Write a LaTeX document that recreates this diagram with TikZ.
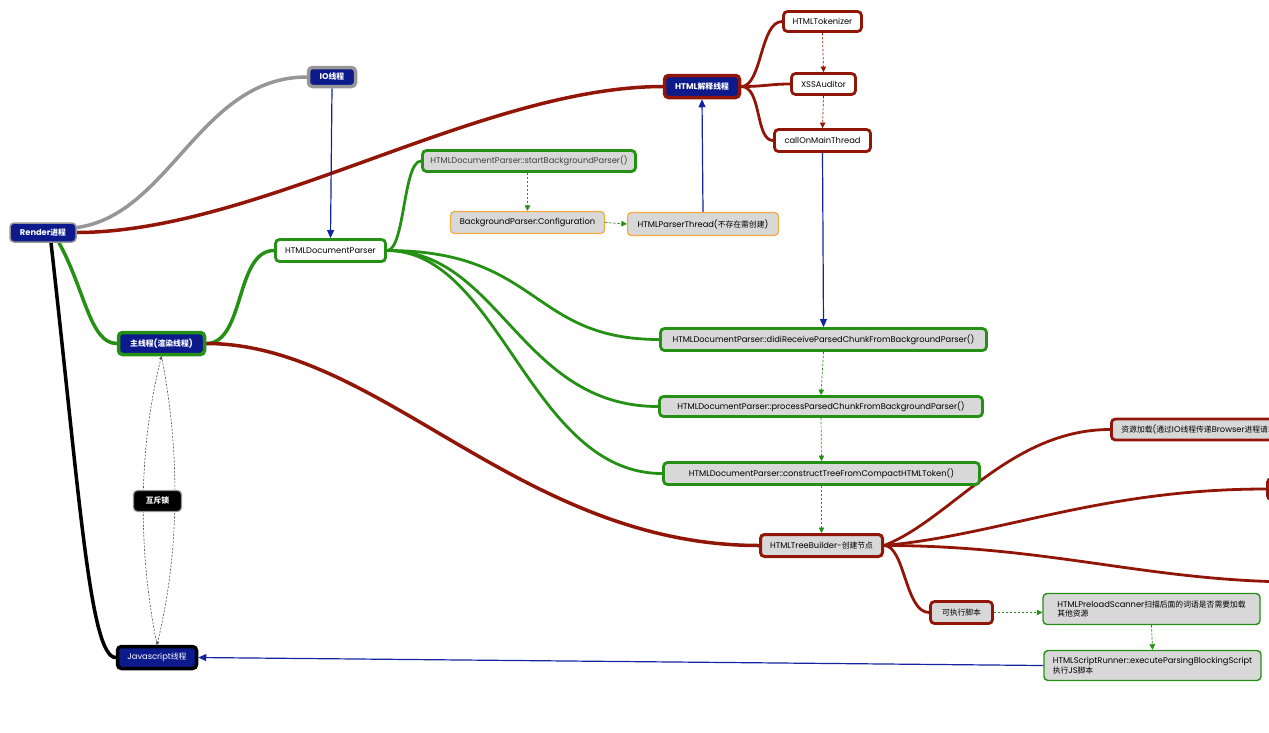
\documentclass[tikz,border=0pt]{standalone}
\usepackage{fontspec}
\setmainfont{Poppins}
\newfontfamily\cjk[Scale=0.94]{Noto Sans CJK SC}
\usetikzlibrary{arrows.meta,calc}
\pgfdeclarelayer{background}
\pgfsetlayers{background,main}
\definecolor{navy}{RGB}{12,26,140}
\definecolor{dred}{RGB}{145,22,8}
\definecolor{mgreen}{RGB}{36,145,20}
\definecolor{lgray}{RGB}{216,216,216}
\definecolor{bgray}{RGB}{150,150,150}
\definecolor{orng}{RGB}{245,170,60}
\definecolor{ablue}{RGB}{20,36,160}
\newcommand{\zh}[1]{{\cjk #1}}
\tikzset{
  box/.style={rounded corners=4pt, draw, inner sep=2pt, align=center, font=\fontsize{8.3}{9.8}\selectfont},
  navybox/.style={box, fill=navy, text=white, font=\fontsize{8.3}{9.8}\selectfont\bfseries},
  redbox/.style={box, draw=dred, line width=2.8pt, fill=white},
  redgbox/.style={box, draw=dred, line width=2.8pt, fill=lgray},
  greenbox/.style={box, draw=mgreen, line width=2.8pt, fill=lgray},
  thingreen/.style={box, draw=mgreen, line width=1.4pt, fill=lgray, align=left},
  orangebox/.style={box, draw=orng, line width=1.2pt, fill=lgray},
  branch/.style={line width=3.5pt, line cap=round},
  thinbranch/.style={line width=2.8pt, line cap=round},
  bluearrow/.style={draw=ablue, line width=1.2pt, -{Triangle[length=8pt,width=7pt]}},
  dasharrow/.style={dashed, line width=0.7pt, dash pattern=on 2.5pt off 1.5pt, -{Triangle[length=5.5pt,width=5.5pt]}},
}
\begin{document}
\begin{tikzpicture}[x=1pt,y=-1pt]
\useasboundingbox (0,0) rectangle (1269,732);
% nodes
\node[navybox, draw=bgray, line width=1.5pt, minimum width=66pt, minimum height=19pt] (render) at (43,232.5) {Render\zh{进程}};
\node[navybox, draw=bgray, line width=3.5pt, minimum width=47pt, minimum height=19pt] (io) at (332,77) {IO\zh{线程}};
\node[navybox, draw=dred, line width=3.5pt, minimum width=75pt, minimum height=22pt] (hp) at (702,86.5) {HTML\zh{解释线程}};
\node[redbox, minimum width=78pt, minimum height=20pt] (tok) at (822.5,21.5) {HTMLTokenizer};
\node[redbox, minimum width=64pt, minimum height=21pt] (xss) at (823.5,84) {XSSAuditor};
\node[redbox, minimum width=96pt, minimum height=22pt] (call) at (822.5,140.5) {callOnMainThread};
\node[greenbox, minimum width=213pt, minimum height=21pt, text=black!75] (sbp) at (529,161) {HTMLDocumentParser::startBackgroundParser()};
\node[orangebox, minimum width=154pt, minimum height=22pt] (conf) at (527.5,222.5) {BackgroundParser:Configuration};
\node[orangebox, minimum width=151pt, minimum height=23pt] (hpt) at (703,224) {HTMLParserThread(\zh{不存在需创建})};
\node[box, draw=mgreen, line width=2.8pt, fill=white, minimum width=110pt, minimum height=22pt] (hdp) at (330.5,250.5) {HTMLDocumentParser};
\node[navybox, draw=mgreen, line width=3.5pt, minimum width=86pt, minimum height=22pt] (mt) at (161.5,343.5) {\zh{主线程}(\zh{渲染线程})};
\node[greenbox, minimum width=326pt, minimum height=22pt] (did) at (823.5,339.5) {HTMLDocumentParser::didiReceiveParsedChunkFromBackgroundParser()};
\node[greenbox, minimum width=323pt, minimum height=20pt] (proc) at (821,406.5) {HTMLDocumentParser::processParsedChunkFromBackgroundParser()};
\node[greenbox, minimum width=316pt, minimum height=22pt] (cons) at (821.5,473.5) {HTMLDocumentParser::constructTreeFromCompactHTMLToken()};
\node[redgbox, line width=3pt, minimum width=122pt, minimum height=22pt] (tb) at (821.5,545.5) {HTMLTreeBuilder-\zh{创建节点}};
\node[redgbox, anchor=west, minimum height=21pt, inner xsep=10pt] (res) at (1110,429.5) {\zh{资源加载}(\zh{通过}IO\zh{线程传递}Browser\zh{进程请求})};
\node[redgbox, anchor=west, minimum width=100pt, minimum height=21pt] (n2) at (1266,489) {};
\coordinate (n3) at (1300,582);
\node[redgbox, minimum width=62pt, minimum height=22pt] (exe) at (961.5,612.5) {\zh{可执行脚本}};
\node[thingreen, minimum width=217pt, minimum height=31pt] (pre) at (1151.5,609) {HTMLPreloadScanner\zh{扫描后面的词语是否需要加载}\\\zh{其他资源}};
\node[thingreen, minimum width=217pt, minimum height=30pt] (run) at (1152.5,665.5) {HTMLScriptRunner::executeParsingBlockingScript\\\zh{执行}JS\zh{脚本}};
\node[box, fill=black, text=white, draw=bgray, line width=1.2pt, minimum width=48pt, minimum height=21pt, font=\fontsize{8.3}{9.8}\selectfont\bfseries] (lock) at (157.5,501) {\zh{互斥锁}};
\node[box, fill=navy, text=white, draw=black, line width=3.5pt, minimum width=79pt, minimum height=22pt] (js) at (157,657.5) {Javascript\zh{线程}};
% connectors
\begin{pgfonlayer}{background}
\draw[branch, bgray] ([yshift=5pt]render.east) .. controls (170,215) and (200,77) .. (io.west);
\draw[branch, dred] (render.east) .. controls (260,232) and (480,87) .. (hp.west);
\draw[branch, mgreen] ([xshift=16pt]render.south) .. controls (85,290) and (90,343.5) .. (mt.west);
\draw[branch, black] ([xshift=8pt]render.south) .. controls (80,500) and (90,657.5) .. (js.west);
\draw[branch, mgreen] (mt.east) .. controls (245,343.5) and (235,250.5) .. (hdp.west);
\draw[branch, dred] (mt.east) .. controls (380,343.5) and (520,545.5) .. (tb.west);
\draw[thinbranch, mgreen] (hdp.east) .. controls (405,250.5) and (403,161) .. (sbp.west);
\draw[thinbranch, mgreen] (hdp.east) .. controls (540,250.5) and (530,339.5) .. (did.west);
\draw[thinbranch, mgreen] (hdp.east) .. controls (500,250.5) and (520,406.5) .. (proc.west);
\draw[thinbranch, mgreen] (hdp.east) .. controls (500,250.5) and (530,473.5) .. (cons.west);
\draw[thinbranch, dred] (hp.east) .. controls (762,86.5) and (760,21.5) .. (tok.west);
\draw[thinbranch, dred] (hp.east) .. controls (765,86.5) and (770,84) .. (xss.west);
\draw[thinbranch, dred] (hp.east) .. controls (762,86.5) and (755,140.5) .. (call.west);
\draw[thinbranch, dred] (tb.east) .. controls (950,520) and (1010,429.5) .. (res.west);
\draw[thinbranch, dred] (tb.east) .. controls (1000,535) and (1100,489) .. (n2.west);
\draw[thinbranch, dred] (tb.east) .. controls (1050,545.5) and (1150,582) .. (n3);
\draw[thinbranch, dred] (tb.east) .. controls (905,545.5) and (905,612.5) .. (exe.west);
% dashed relations
\draw[dasharrow, dred] (tok.south) -- (xss.north);
\draw[dasharrow, dred] (xss.south) -- (call.north);
\draw[dasharrow, mgreen] (conf.north |- sbp.south) -- (conf.north);
\draw[dasharrow, mgreen] (conf.east) -- (hpt.west);
\draw[dasharrow, mgreen] (did.south) -- (proc.north);
\draw[dasharrow, mgreen] (proc.south) -- (cons.north);
\draw[dasharrow, mgreen] (cons.south) -- (tb.north);
\draw[dasharrow, mgreen] (exe.east) -- (exe.east -| pre.west);
\draw[dasharrow, mgreen] (pre.south) -- (run.north);
% blue arrows
\draw[bluearrow] (io.south) -- (hdp.north);
\draw[bluearrow] (hpt.north) -- (hp.south);
\draw[bluearrow] (call.south) -- (did.north);
\draw[bluearrow] (run.west) -- (js.east);
% mutex lens
\draw[dashed, draw=black!70, line width=0.6pt, dash pattern=on 2pt off 1.5pt, -{Triangle[length=3pt,width=3pt]}] (js.north) .. controls (138,550) and (138,450) .. (mt.south);
\draw[dashed, draw=black!70, line width=0.6pt, dash pattern=on 2pt off 1.5pt, -{Triangle[length=3pt,width=3pt]}] (mt.south) .. controls (180,450) and (180,550) .. (js.north);
\end{pgfonlayer}
\end{tikzpicture}
\end{document}
